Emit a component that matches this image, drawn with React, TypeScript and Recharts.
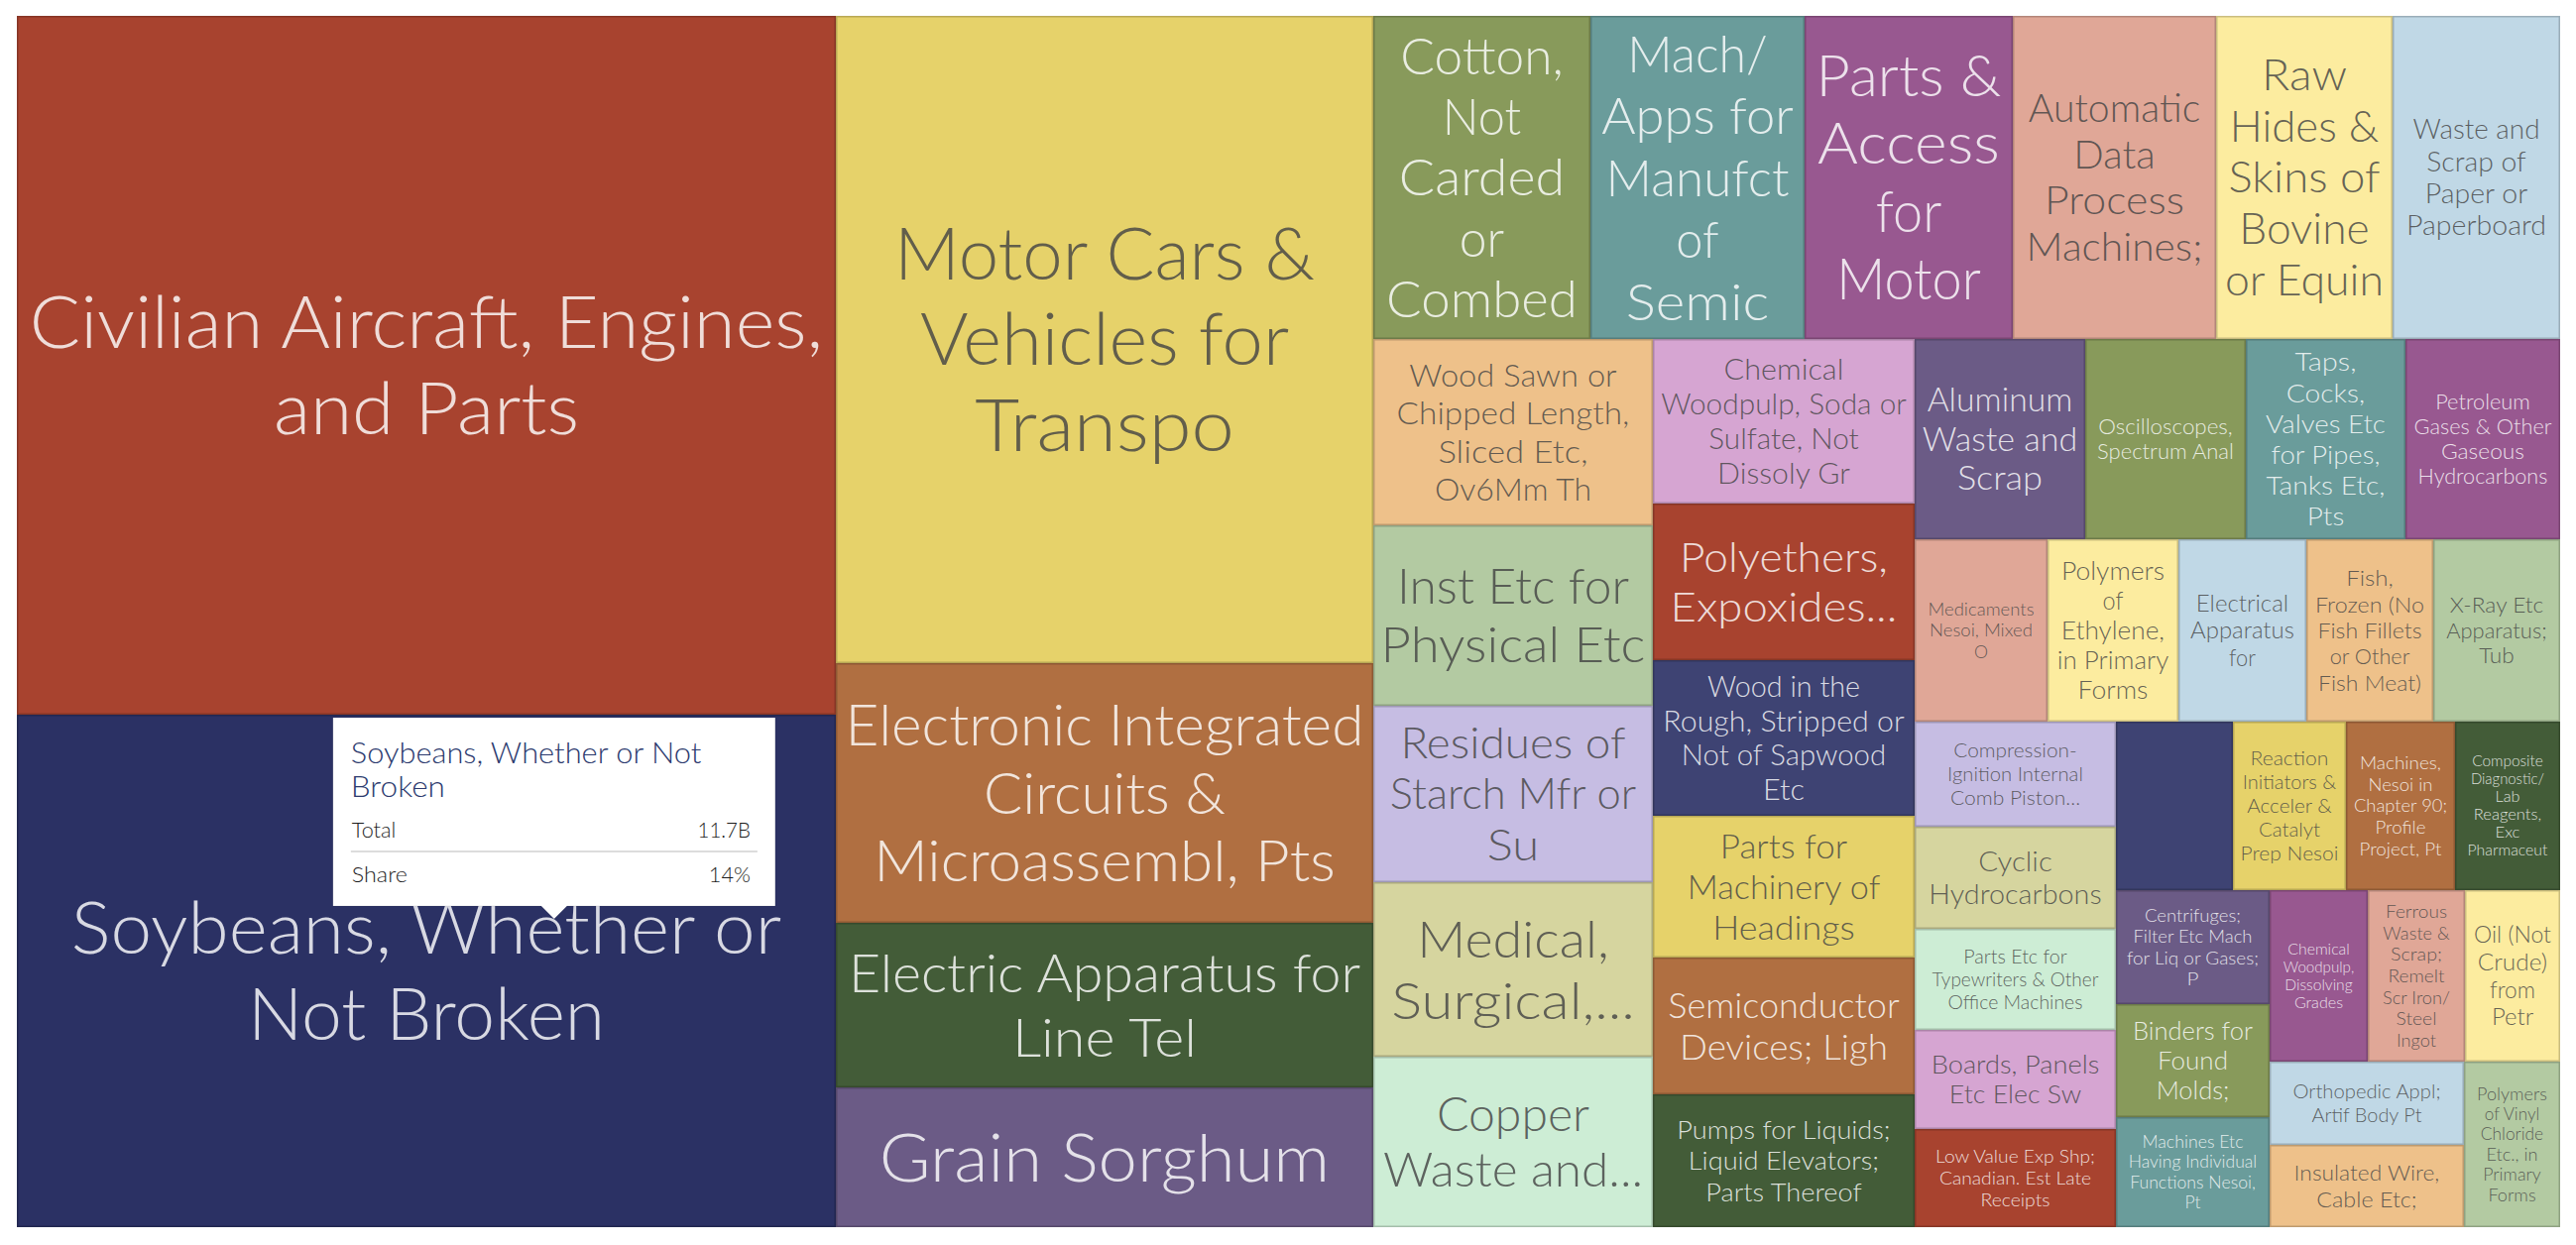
import { Treemap } from "recharts"

// US exports by product, millions of USD
const PRODUCTS = [
  "Civilian Aircraft, Engines, and Parts",
  "Soybeans, Whether or Not Broken",
  "Motor Cars & Vehicles for Transpo",
  "Electronic Integrated Circuits & Microassembl, Pts",
  "Electric Apparatus for Line Tel",
  "Grain Sorghum",
  "Cotton, Not Carded or Combed",
  "Mach/Apps for Manufct of Semic",
  "Parts & Access for Motor",
  "Automatic Data Process Machines;",
  "Raw Hides & Skins of Bovine or Equin",
  "Waste and Scrap of Paper or Paperboard",
  "Wood Sawn or Chipped Length, Sliced Etc, Ov6Mm Th",
  "Inst Etc for Physical Etc",
  "Residues of Starch Mfr or Su",
  "Medical, Surgical,...",
  "Copper Waste and...",
  "Chemical Woodpulp, Soda or Sulfate, Not Dissoly Gr",
  "Polyethers, Expoxides...",
  "Wood in the Rough, Stripped or Not of Sapwood Etc",
  "Parts for Machinery of Headings",
  "Semiconductor Devices; Ligh",
  "Pumps for Liquids; Liquid Elevators; Parts Thereof",
  "Aluminum Waste and Scrap",
  "Oscilloscopes, Spectrum Anal",
  "Taps, Cocks, Valves Etc for Pipes, Tanks Etc, Pts",
  "Petroleum Gases & Other Gaseous Hydrocarbons",
  "Medicaments Nesoi, Mixed O",
  "Polymers of Ethylene, in Primary Forms",
  "Electrical Apparatus for",
  "Fish, Frozen (No Fish Fillets or Other Fish Meat)",
  "X-Ray Etc Apparatus; Tub",
  "Compression-Ignition Internal Comb Piston...",
  "Cyclic Hydrocarbons",
  "Parts Etc for Typewriters & Other Office Machines",
  "Boards, Panels Etc Elec Sw",
  "Low Value Exp Shp; Canadian. Est Late Receipts",
  "",
  "Reaction Initiators & Acceler & Catalyt Prep Nesoi",
  "Machines, Nesoi in Chapter 90; Profile Project, Pt",
  "Composite Diagnostic/Lab Reagents, Exc Pharmaceut",
  "Centrifuges; Filter Etc Mach for Liq or Gases; P",
  "Binders for Found Molds;",
  "Machines Etc Having Individual Functions Nesoi, Pt",
  "Chemical Woodpulp, Dissolving Grades",
  "Ferrous Waste & Scrap; Remelt Scr Iron/Steel Ingot",
  "Oil (Not Crude) from Petr",
  "Orthopedic Appl; Artif Body Pt",
  "Insulated Wire, Cable Etc;",
  "Polymers of Vinyl Chloride Etc., in Primary Forms",
]

const EXPORTS_MUSD = [
  15955, 11700, 9709, 3895, 2468, 2096, 1961, 1926, 1881, 1828, 1587, 1498,
  1454, 1408, 1377, 1361, 1338, 1202, 1144, 1137, 1036, 999, 978, 953, 898,
  892, 859, 676, 666, 651, 646, 641, 590, 574, 568, 557, 551, 550, 532, 513,
  492, 490, 485, 472, 468, 467, 458, 452, 446, 440,
]

const PALETTE = [
  "#a8432f", "#3e4373", "#e6d26a", "#b06f41", "#435c38", "#6b5b86",
  "#889a5b", "#6a9c9b", "#985890", "#e0a797", "#fcec9f", "#c0d8e6",
  "#eec18a", "#b3caa2", "#c6bde3", "#d6d59f", "#cdedd5", "#d6a5d2",
]

const HOVER_FILL = "#2b3164"
const ACTIVE_INDEX = 1

const data = PRODUCTS.map((name, i) => ({ name, value: EXPORTS_MUSD[i] }))
const TOTAL = EXPORTS_MUSD.reduce((a, b) => a + b, 0)

// glyphs are drawn with a light face, but measured (and stretched to) Helvetica widths
const DRAW_FONT = "Lato, Roboto, sans-serif"
const METRIC_FONT = '"Liberation Sans", Arial, sans-serif'
const SIZE_MAX = 72
const SIZE_MIN = 14
const PAD_SIZE = 12 // inset used to pick the font size
const PAD_FLOW = 7.5 // inset used to flow the words
const LINE = 1.2

let ctx: CanvasRenderingContext2D | null = null
const measure = (s: string, size: number) => {
  if (!ctx) ctx = document.createElement("canvas").getContext("2d")
  ctx!.font = `400 ${size}px ${METRIC_FONT}`
  return ctx!.measureText(s).width
}

type Tok = { t: string; sp: boolean }
const tokenize = (s: string): Tok[] => {
  const out: Tok[] = []
  s.split(" ").forEach((word, wi) => {
    word.split(/(?<=[\/-])/).forEach((p, pi) => {
      if (p) out.push({ t: p, sp: wi > 0 && pi === 0 })
    })
  })
  return out
}

const wrap = (toks: Tok[], size: number, maxW: number) => {
  const lines: string[] = []
  let line = ""
  for (const tok of toks) {
    if (measure(tok.t, size) > maxW) return null
    const cand = line ? line + (tok.sp ? " " : "") + tok.t : tok.t
    if (!line || measure(cand, size) <= maxW) line = cand
    else {
      lines.push(line)
      line = tok.t
    }
  }
  if (line) lines.push(line)
  return lines
}

// font size guess in the way d3plus does it, then shrink until it fits
const fitLabel = (name: string, w: number, h: number) => {
  const lw = w - 2 * PAD_SIZE
  const lh = h - 2 * PAD_SIZE
  const fw = w - 2 * PAD_FLOW
  const fh = h - 2 * PAD_FLOW
  if (lw <= 0 || lh <= 0) return null
  const toks = tokenize(name)
  const widths = toks.map((t) => measure(t.t, SIZE_MAX))
  const maxW = Math.max(...widths)
  const spaceW = measure(" ", SIZE_MAX)
  const sum =
    widths.reduce((a, b) => a + b, 0) + toks.filter((t) => t.sp).length * spaceW
  const areaMod = 1.165 + (lw / lh) * 0.11
  const textArea = sum * SIZE_MAX * LINE * areaMod
  const boxArea = lw * lh
  let size = SIZE_MAX
  if (maxW > lw || textArea > boxArea) {
    const ratio = Math.min(Math.sqrt(boxArea / textArea), lw / maxW)
    size = Math.max(SIZE_MIN, Math.floor(SIZE_MAX * ratio))
  }
  size = Math.min(size, Math.floor(lh * 0.8))
  for (; size >= SIZE_MIN; size--) {
    const lines = wrap(toks, size, fw)
    if (lines && (lines.length - 1) * size * LINE + size <= fh) return { size, lines }
  }
  return null
}

const rgb = (hex: string) => [1, 3, 5].map((i) => parseInt(hex.slice(i, i + 2), 16))
const darken = (hex: string, k: number) =>
  `rgb(${rgb(hex).map((c) => Math.round(c * k)).join(",")})`
const luma = (hex: string) => {
  const [r, g, b] = rgb(hex)
  return 0.2126 * r + 0.7152 * g + 0.0722 * b
}

function Line({ text, x, y, size, anchor = "middle", ...rest }: any) {
  return (
    <text
      x={x}
      y={y}
      fontSize={size}
      fontFamily={DRAW_FONT}
      fontWeight={300}
      textAnchor={anchor}
      textLength={measure(text, size)}
      lengthAdjust="spacingAndGlyphs"
      {...rest}
    >
      {text}
    </text>
  )
}

function HoverTip({ x, y, width, index }: any) {
  const w = 446
  const h = 190
  const cx = x + width * 0.656
  const left = cx - w / 2
  const top = y + 3
  const title = wrap(tokenize(PRODUCTS[index]), 30, w - 36) || []
  const value = EXPORTS_MUSD[index]
  const total = `${(value / 1000).toFixed(1)}B`
  const share = `${Math.round((value / TOTAL) * 100)}%`
  return (
    <g>
      <path
        d={`M${left},${top} h${w} v${h} H${cx + 13} l-13,13 l-13,-13 H${left} Z`}
        fill="#fff"
        stroke="rgba(0,0,0,0.08)"
        strokeWidth={1}
      />
      {title.map((l, i) => (
        <Line key={i} text={l} x={left + 18} y={top + 46 + i * 34} size={30} anchor="start" fill="#2c3a6e" />
      ))}
      <Line text="Total" x={left + 19} y={top + 121} size={21} anchor="start" fill="#1e1e1e" />
      <Line text={total} x={left + 421} y={top + 121} size={21} anchor="end" fill="#1e1e1e" />
      <line x1={left + 18} x2={left + 428} y1={top + 135} y2={top + 135} stroke="#dcdcdc" strokeWidth={2} />
      <Line text="Share" x={left + 19} y={top + 166} size={21} anchor="start" fill="#1e1e1e" />
      <Line text={share} x={left + 421} y={top + 166} size={21} anchor="end" fill="#1e1e1e" />
    </g>
  )
}

function Cell(props: any) {
  const { depth, x, y, width, height, index, name } = props
  if (depth !== 1) return null
  const base = PALETTE[index % PALETTE.length]
  const fill = index === ACTIVE_INDEX ? HOVER_FILL : base
  const label = name ? fitLabel(name, width, height) : null
  const light = luma(base) < 160
  const cx = x + width / 2
  const cy = y + height / 2
  return (
    <g>
      <rect
        x={x + 0.75}
        y={y + 0.75}
        width={Math.max(0, width - 1.5)}
        height={Math.max(0, height - 1.5)}
        fill={fill}
        stroke={darken(fill, 0.8)}
        strokeWidth={1.5}
      />
      {label &&
        label.lines.map((l, i) => (
          <Line
            key={i}
            text={l}
            x={cx}
            y={cy + (i - (label.lines.length - 1) / 2) * label.size * LINE + label.size * 0.36}
            size={label.size}
            fill={light ? "#ffffff" : "#444444"}
            fillOpacity={0.82}
          />
        ))}
      {index === ACTIVE_INDEX && <HoverTip x={x} y={y} width={width} index={index} />}
    </g>
  )
}

export default function App() {
  return (
    <div style={{ marginLeft: 9, marginTop: 8, width: 2565, height: 1222 }}>
      <Treemap
        width={2565}
        height={1222}
        data={data}
        dataKey="value"
        nameKey="name"
        isAnimationActive={false}
        content={<Cell />}
      />
    </div>
  )
}
